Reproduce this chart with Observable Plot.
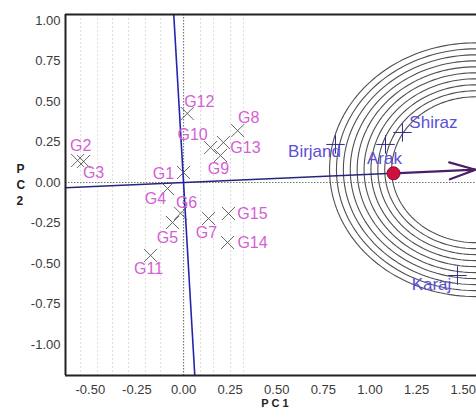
<!DOCTYPE html>
<html>
<head>
<meta charset="utf-8">
<script src="https://cdn.jsdelivr.net/npm/d3@7"></script>
<script src="https://cdn.jsdelivr.net/npm/@observablehq/plot@0.6"></script>
<style>
  html, body { margin: 0; padding: 0; background: #fff; }
  #chart svg { display: block; }
</style>
</head>
<body>
<div id="chart"></div>
<script>
// ---- data ----
const genotypes = ["G1","G2","G3","G4","G5","G6","G7","G8","G9","G10","G11","G12","G13","G14","G15"];
const genoPC1 = [0.000, -0.568, -0.536, -0.086, -0.059, -0.016, 0.134, 0.290, 0.198, 0.145, -0.177, 0.020, 0.214, 0.236, 0.241];
const genoPC2 = [0.062, 0.136, 0.130, -0.037, -0.247, -0.190, -0.222, 0.320, 0.167, 0.216, -0.450, 0.426, 0.247, -0.370, -0.191];

const environments = ["Birjand", "Arak", "Shiraz", "Karaj"];
const envPC1 = [0.815, 1.083, 1.174, 1.469];
const envPC2 = [0.235, 0.235, 0.309, -0.574];

const averageEnv = [1.126, 0.057];   // red dot
const idealEnv = [1.566, 0.079];     // arrow tip / circle centre
const circleRadii = [0.45, 0.487, 0.524, 0.561, 0.598, 0.635, 0.672, 0.709, 0.746, 0.783];

const xTicks = [-0.5, -0.25, 0, 0.25, 0.5, 0.75, 1, 1.25, 1.5];
const yTicks = [1, 0.75, 0.5, 0.25, 0, -0.25, -0.5, -0.75, -1];
const faintGridX = [-0.552, -0.461, -0.381, -0.295, -0.204, -0.123, 0.091, 0.161, 0.252, 0.322];

// label placement (pixels, relative to marker)
const genoLabelDx = [-20, 3, 10, -12, -5, 6, -2, 11, -2, -18, -2, 12, 22, 25, 24];
const genoLabelDy = [1, -15, 11, 10, 15, -10, 14, -13, 13, -13, 13, -12, 5, 0, 0];
const envLabelDx = [-21, -1, 31, -26];
const envLabelDy = [7, 14, -10, 9];

// ---- derived tables ----
const xDomain = [-0.633, 1.571];
const yDomain = [-1.191, 1.037];

const genoData = genotypes.map((g, i) => ({name: g, x: genoPC1[i], y: genoPC2[i], dx: genoLabelDx[i], dy: genoLabelDy[i]}));
const envData = environments.map((e, i) => ({name: e, x: envPC1[i], y: envPC2[i], dx: envLabelDx[i], dy: envLabelDy[i]}));

const slope = averageEnv[1] / averageEnv[0];
const aecLine = [
  {x: xDomain[0], y: slope * xDomain[0]},
  {x: averageEnv[0], y: averageEnv[1]}
];
const aecPerp = [
  {x: -slope * yDomain[1], y: yDomain[1]},
  {x: -slope * yDomain[0], y: yDomain[0]}
];

const circlePts = [];
for (const r of circleRadii) {
  for (let a = 0; a <= 360; a += 2) {
    const t = a * Math.PI / 180;
    circlePts.push({r, x: idealEnv[0] + r * Math.cos(t), y: idealEnv[1] + r * Math.sin(t)});
  }
}

const arrowSeg = [{x1: averageEnv[0], y1: averageEnv[1], x2: idealEnv[0], y2: idealEnv[1]}];

const fmt = d => d.toFixed(2);

const labelMarks = (data, fill, fontSize) =>
  data.map(d => Plot.text([d], {x: "x", y: "y", text: "name", dx: d.dx, dy: d.dy, fill, fontSize}));

const chart = Plot.plot({
  width: 476,
  height: 412,
  marginLeft: 65,
  marginRight: 0,
  marginTop: 14,
  marginBottom: 37,
  style: {fontFamily: "Liberation Sans, Arial, sans-serif", fontSize: "13px", color: "#3a3a3a", background: "#fff"},
  x: {domain: xDomain, ticks: xTicks, tickFormat: fmt, tickSize: 0, tickPadding: 9, label: null},
  y: {domain: yDomain, ticks: yTicks, tickFormat: fmt, tickSize: 0, tickPadding: 5, label: null},
  marks: [
    Plot.ruleX(faintGridX, {stroke: "#dedede", strokeWidth: 1, strokeDasharray: "2,2"}),
    Plot.ruleX([0], {stroke: "#777", strokeWidth: 1.2, strokeDasharray: "1.5,1.5"}),
    Plot.ruleY([0], {stroke: "#777", strokeWidth: 1.2, strokeDasharray: "1.5,1.5"}),
    Plot.line(circlePts, {x: "x", y: "y", z: "r", stroke: "#505050", strokeWidth: 1.1, clip: true}),
    Plot.line(aecLine, {x: "x", y: "y", stroke: "#25257e", strokeWidth: 1.6}),
    Plot.line(aecPerp, {x: "x", y: "y", stroke: "#2424b0", strokeWidth: 1.6}),
    Plot.arrow(arrowSeg, {x1: "x1", y1: "y1", x2: "x2", y2: "y2", stroke: "#4a1f66", strokeWidth: 2.2, headLength: 28, headAngle: 36}),
    Plot.dot([averageEnv], {x: d => d[0], y: d => d[1], r: 6.5, fill: "#d0103c", stroke: "#8c0a30", strokeWidth: 1}),
    Plot.dot(genoData, {x: "x", y: "y", symbol: "times", r: 6, stroke: "#555", strokeWidth: 0.9}),
    Plot.dot(envData, {x: "x", y: "y", symbol: "plus", r: 6, stroke: "#2c2c8c", strokeWidth: 1}),
    ...labelMarks(genoData, "#d35fd3", 16),
    ...labelMarks(envData, "#5b4fd6", 17),
    Plot.ruleX([xDomain[0]], {stroke: "#222", strokeWidth: 2}),
    Plot.ruleY([yDomain[0], yDomain[1]], {stroke: "#222", strokeWidth: 2}),
    Plot.text(["P C 1"], {frameAnchor: "bottom", dy: 31, dx: 4, fontWeight: "bold", fontSize: 11, fill: "#222"}),
    Plot.text(["P\nC\n2"], {frameAnchor: "left", dx: -49, dy: -11, lineHeight: 1.3, fontWeight: "bold", fontSize: 12, fill: "#222"})
  ]
});

document.getElementById("chart").appendChild(chart);
</script>
</body>
</html>
